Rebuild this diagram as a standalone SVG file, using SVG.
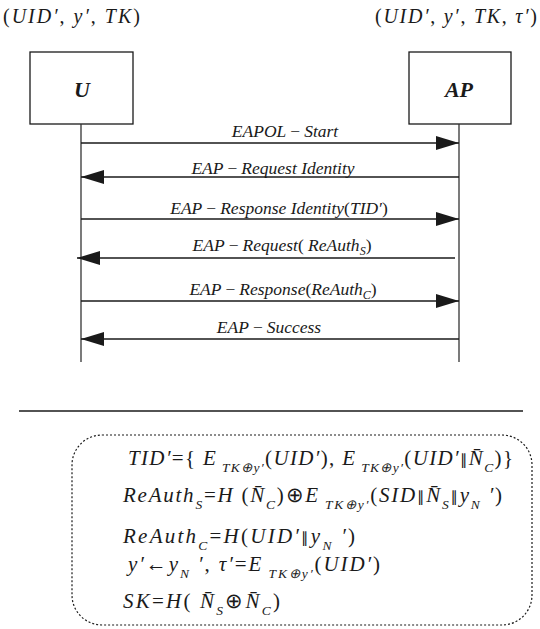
<svg xmlns="http://www.w3.org/2000/svg" width="540" height="629" viewBox="0 0 540 629">
<defs>
<marker id="ah" markerWidth="23" markerHeight="14" refX="23" refY="7" orient="auto" markerUnits="userSpaceOnUse">
<path d="M0,0 L23,7 L0,14 Z" fill="#1a1a1a"/>
</marker>
<style>
.m{font-family:"Liberation Serif","Times New Roman",serif;font-style:italic;font-size:21px;fill:#1a1a1a}
.h{font-family:"Liberation Serif","Times New Roman",serif;font-style:italic;font-size:20px;fill:#1a1a1a}
.l{font-family:"Liberation Serif","Times New Roman",serif;font-style:italic;font-size:17.5px;fill:#1a1a1a;text-anchor:middle}
.r{font-style:normal}
.s{font-size:13.5px}
.ls{font-size:12px}
.p{font-family:"DejaVu Sans",sans-serif;font-style:normal;font-size:15px}
.box{fill:#fff;stroke:#1a1a1a;stroke-width:1.3}
.life{stroke:#333;stroke-width:1.3;fill:none}
.msg{stroke:#1a1a1a;stroke-width:1.3;fill:none;marker-end:url(#ah)}
.nodeLabel{font-family:"Liberation Serif","Times New Roman",serif;font-style:italic;font-weight:bold;font-size:22px;fill:#1a1a1a;text-anchor:middle}
</style>
</defs>
<rect width="540" height="629" fill="#fff"/>

<g id="state-U">
<text class="h" x="3" y="23" textLength="137" lengthAdjust="spacing"><tspan class="r">(</tspan>UID′<tspan class="r">, </tspan>y′<tspan class="r">, </tspan>TK<tspan class="r">)</tspan></text>
</g>
<g id="state-AP">
<text class="h" x="375" y="23" textLength="162" lengthAdjust="spacing"><tspan class="r">(</tspan>UID′<tspan class="r">, </tspan>y′<tspan class="r">, </tspan>TK<tspan class="r">, </tspan>τ′<tspan class="r">)</tspan></text>
</g>

<g id="node-U">
<rect class="box" x="30" y="52" width="103" height="72"/>
<text class="nodeLabel" x="82" y="97">U</text>
</g>
<g id="node-AP">
<rect class="box" x="409" y="52" width="102" height="72"/>
<text class="nodeLabel" x="459" y="97">AP</text>
</g>

<g id="connectors">
<line class="life" x1="81" y1="124" x2="81" y2="362"/>
<line class="life" x1="459" y1="124" x2="459" y2="362"/>
<line class="msg" x1="81" y1="143" x2="459" y2="143"/>
<line class="msg" x1="459" y1="177" x2="81" y2="177"/>
<line class="msg" x1="81" y1="219" x2="459" y2="219"/>
<line class="msg" x1="455" y1="258" x2="77" y2="258"/>
<line class="msg" x1="81" y1="301" x2="459" y2="301"/>
<line class="msg" x1="459" y1="339" x2="81" y2="339"/>
</g>

<g id="labels">
<text class="l" x="285" y="137">EAPOL<tspan class="r" dx="4">−</tspan><tspan dx="4">Start</tspan></text>
<text class="l" x="273" y="174">EAP<tspan class="r" dx="4">−</tspan><tspan dx="4">Request Identity</tspan></text>
<text class="l" x="279" y="214">EAP<tspan class="r" dx="4">−</tspan><tspan dx="4">Response Identity</tspan><tspan class="r">(</tspan>TID′<tspan class="r">)</tspan></text>
<text class="l" x="282" y="251">EAP<tspan class="r" dx="4">−</tspan><tspan dx="4">Request</tspan><tspan class="r">( </tspan>ReAuth<tspan class="ls" dy="4">S</tspan><tspan class="r" dy="-4">)</tspan></text>
<text class="l" x="283" y="295">EAP<tspan class="r" dx="4">−</tspan><tspan dx="4">Response</tspan><tspan class="r">(</tspan>ReAuth<tspan class="ls" dy="4">C</tspan><tspan class="r" dy="-4">)</tspan></text>
<text class="l" x="269" y="333">EAP<tspan class="r" dx="4">−</tspan><tspan dx="4">Success</tspan></text>
</g>

<g id="separator">
<line x1="19" y1="411" x2="523" y2="411" stroke="#1a1a1a" stroke-width="1.5"/>
</g>

<g id="formulas">
<rect x="72" y="435" width="460" height="190" rx="30" ry="30" fill="none" stroke="#1a1a1a" stroke-width="1.2" stroke-dasharray="2 2"/>
<text class="m" x="128" y="465" textLength="385" lengthAdjust="spacing">TID′<tspan class="r">={ </tspan>E<tspan class="s" dy="7"> TK⊕y′</tspan><tspan class="r" dy="-7">(</tspan>UID′<tspan class="r">), </tspan>E<tspan class="s" dy="7"> TK⊕y′</tspan><tspan class="r" dy="-7">(</tspan>UID′<tspan class="p">∥</tspan>N̄<tspan class="s" dy="7">C</tspan><tspan class="r" dy="-7">)}</tspan></text>
<text class="m" x="123" y="502" textLength="379" lengthAdjust="spacing">ReAuth<tspan class="s" dy="7">S</tspan><tspan class="r" dy="-7">=</tspan>H<tspan class="r"> (</tspan>N̄<tspan class="s" dy="7">C</tspan><tspan class="r" dy="-7">)⊕</tspan>E<tspan class="s" dy="7"> TK⊕y′</tspan><tspan class="r" dy="-7">(</tspan>SID<tspan class="p">∥</tspan>N̄<tspan class="s" dy="7">S</tspan><tspan class="p" dy="-7">∥</tspan>y<tspan class="s" dy="7">N</tspan><tspan dy="-7"> ′</tspan><tspan class="r">)</tspan></text>
<text class="m" x="123" y="543" textLength="232" lengthAdjust="spacing">ReAuth<tspan class="s" dy="7">C</tspan><tspan class="r" dy="-7">=</tspan>H<tspan class="r">(</tspan>UID′<tspan class="p">∥</tspan>y<tspan class="s" dy="7">N</tspan><tspan dy="-7"> ′</tspan><tspan class="r">)</tspan></text>
<text class="m" x="128" y="571" textLength="252" lengthAdjust="spacing">y′<tspan class="r">←</tspan>y<tspan class="s" dy="7">N</tspan><tspan dy="-7"> ′</tspan><tspan class="r">, </tspan>τ′<tspan class="r">=</tspan>E<tspan class="s" dy="7"> TK⊕y′</tspan><tspan class="r" dy="-7">(</tspan>UID′<tspan class="r">)</tspan></text>
<text class="m" x="123" y="608" textLength="157" lengthAdjust="spacing">SK<tspan class="r">=</tspan>H<tspan class="r">( </tspan>N̄<tspan class="s" dy="7">S</tspan><tspan class="r" dy="-7">⊕</tspan>N̄<tspan class="s" dy="7">C</tspan><tspan class="r" dy="-7">)</tspan></text>
</g>
</svg>
